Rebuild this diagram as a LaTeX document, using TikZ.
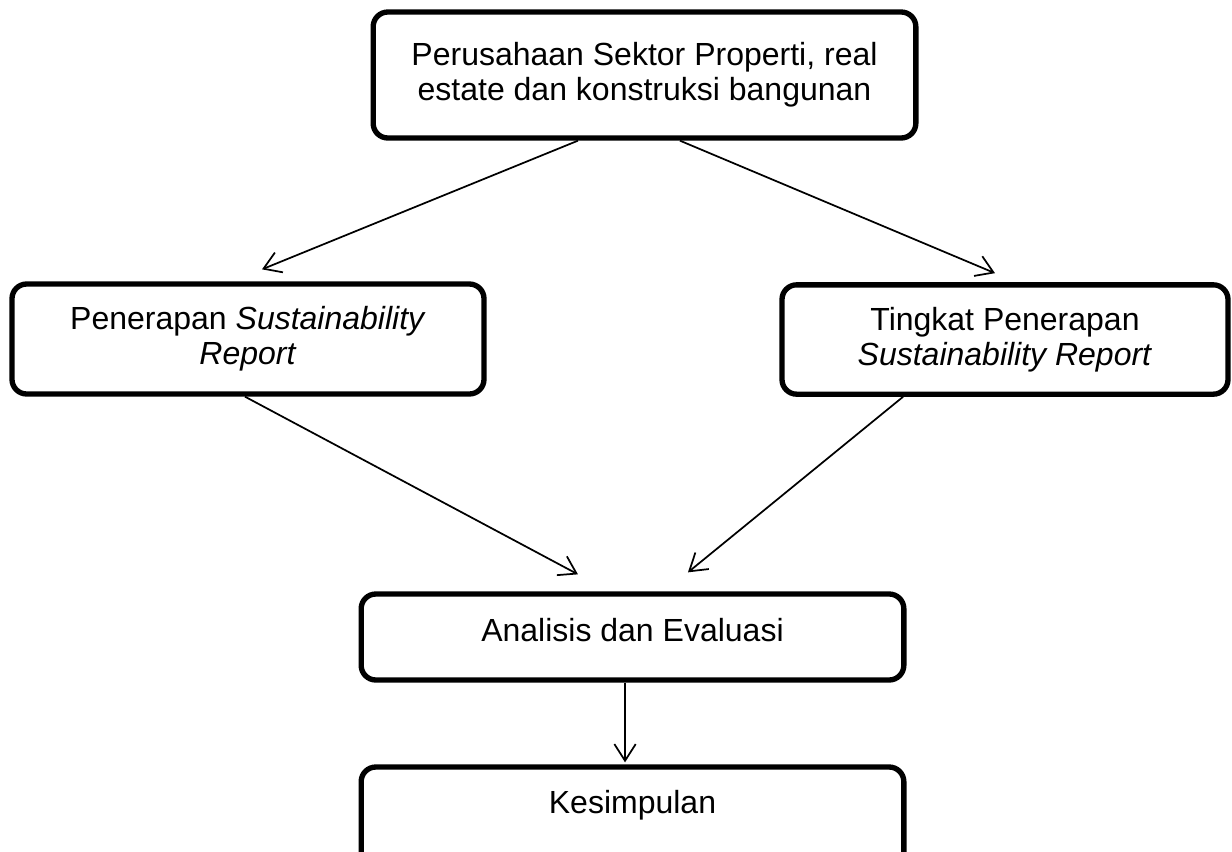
\documentclass[tikz,border=0pt]{standalone}
\usepackage{fontspec}
\setmainfont{Liberation Sans}
\usetikzlibrary{arrows.meta}

\begin{document}
\begin{tikzpicture}[x = 0.75pt, y = -0.75pt,
	box/.style = {draw, line width = 4pt, rounded corners = 11pt, align = center, inner sep = 0pt, font = \fontsize{24pt}{26.5pt}\selectfont},
	link/.style = {-{Straight Barb[length = 12.5pt, width = 16pt]}, line width = 1.3pt}]
	%	page
	\useasboundingbox (0, 0) rectangle (1232, 851);
	\clip (0, 0) rectangle (1232, 851);
	
	%	boxes
	\node[box, minimum width = 407pt, minimum height = 94.5pt] (sektor) at (644.5, 75) {Perusahaan Sektor Properti, real\\estate dan konstruksi bangunan};
	\node[box, minimum width = 354pt, minimum height = 82.5pt] (terapan) at (248, 339) {Penerapan \textit{Sustainability}\\\textit{Report}};
	\node[box, minimum width = 334.5pt, minimum height = 82pt] (tingkat) at (1005, 339.5) {Tingkat Penerapan\\\textit{Sustainability Report}};
	\node[box, minimum width = 407pt, minimum height = 64.5pt, text depth = 11pt] (analisis) at (632.5, 637) {Analisis dan Evaluasi};
	\node[box, minimum width = 407pt, minimum height = 75pt, text depth = 23pt] (kesimpulan) at (632.5, 817) {Kesimpulan};
	
	%	arrows
	\draw[link] ([xshift = -49.9pt]sektor.south) -- ([xshift = 10.5pt, yshift = 9pt]terapan.north);
	\draw[link] ([xshift = 26.6pt]sektor.south) -- ([xshift = -7.5pt, yshift = 6.75pt]tingkat.north);
	\draw[link] ([xshift = -2.25pt]terapan.south) -- ([xshift = -40.9pt, yshift = 12.75pt]analisis.north);
	\draw[link] ([xshift = -76.5pt]tingkat.south) -- ([xshift = 41.6pt, yshift = 14.25pt]analisis.north);
	\draw[link] ([xshift = -5.6pt]analisis.south) -- ([xshift = -5.6pt, yshift = 1.5pt]kesimpulan.north);
\end{tikzpicture}
\end{document}
